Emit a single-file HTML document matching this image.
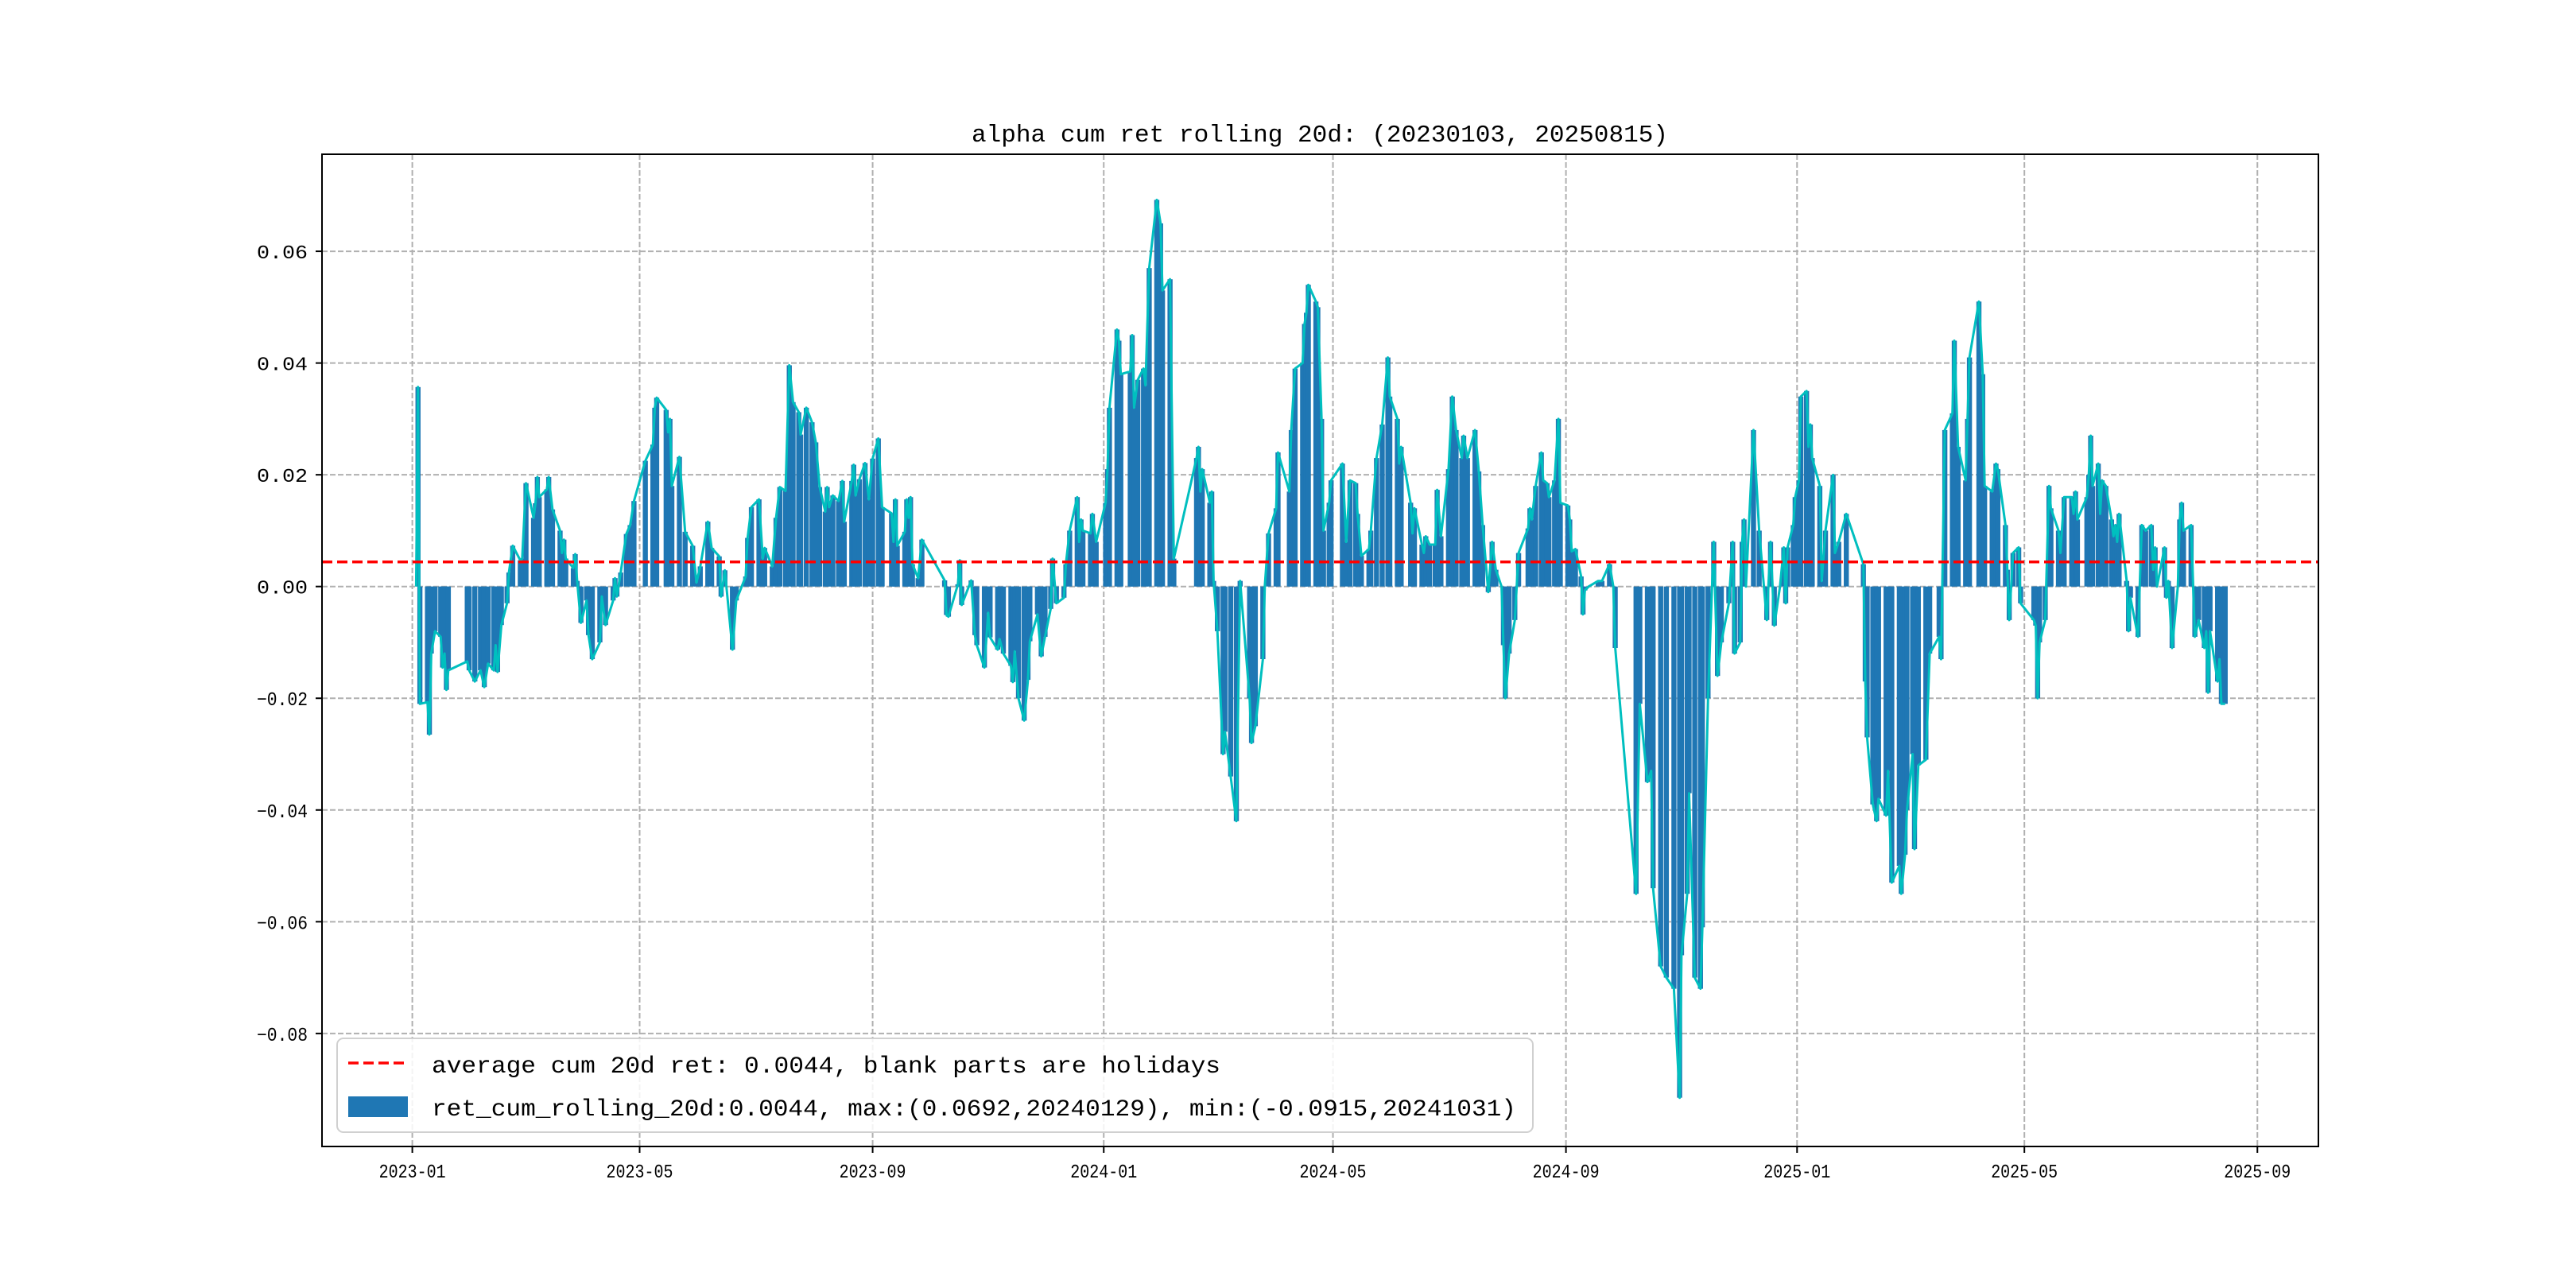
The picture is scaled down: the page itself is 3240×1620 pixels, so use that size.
<!DOCTYPE html>
<html><head><meta charset="utf-8"><title>alpha cum ret rolling 20d</title>
<style>html,body{margin:0;padding:0;background:#fff}svg{display:block}text{font-family:"Liberation Mono","WenQuanYi Zen Hei",monospace}</style>
</head><body>
<svg id="chart" xmlns="http://www.w3.org/2000/svg" width="3240" height="1620" viewBox="0 0 3240 1620">
<rect x="0" y="0" width="3240" height="1620" fill="#fff"/>
<g id="grid"></g>
<g id="bars"></g>
<g id="line"></g>
<g id="avg"></g>
<rect x="405" y="194" width="2511" height="1248" fill="none" stroke="#000" stroke-width="2"/>
<g id="ticks"></g>
<text x="1660" y="178" text-anchor="middle" font-size="31" textLength="876" lengthAdjust="spacingAndGlyphs" fill="#000">alpha cum ret rolling 20d: (20230103, 20250815)</text>
<g>
<rect x="424" y="1306" width="1504" height="118" rx="8" fill="#fff" fill-opacity="0.85" stroke="#d0d0d0" stroke-width="2"/>
<line x1="438" y1="1337" x2="513" y2="1337" stroke="#ff0000" stroke-width="3.5" stroke-dasharray="13,6"/>
<text x="543" y="1349" font-size="30" textLength="992" lengthAdjust="spacingAndGlyphs">average cum 20d ret: 0.0044, blank parts are holidays</text>
<rect x="438" y="1379" width="75" height="26" fill="#1f77b4"/>
<text x="543" y="1403" font-size="30" textLength="1364" lengthAdjust="spacingAndGlyphs">ret_cum_rolling_20d:0.0044, max:(0.0692,20240129), min:(-0.0915,20241031)</text>
</g>
</svg>
<script>
const dates = [
"2023-01-03","2023-01-04","2023-01-05","2023-01-09","2023-01-10","2023-01-11","2023-01-13","2023-01-16","2023-01-17","2023-01-18",
"2023-01-19","2023-01-20","2023-01-30","2023-01-31","2023-02-03","2023-02-06","2023-02-08","2023-02-10","2023-02-13","2023-02-14",
"2023-02-15","2023-02-17","2023-02-20","2023-02-21","2023-02-23","2023-02-27","2023-02-28","2023-03-02","2023-03-06","2023-03-07",
"2023-03-08","2023-03-09","2023-03-13","2023-03-14","2023-03-16","2023-03-20","2023-03-21","2023-03-22","2023-03-23","2023-03-27",
"2023-03-28","2023-03-29","2023-03-31","2023-04-03","2023-04-04","2023-04-06","2023-04-10","2023-04-11","2023-04-13","2023-04-17",
"2023-04-18","2023-04-19","2023-04-21","2023-04-24","2023-04-26","2023-04-28","2023-05-04","2023-05-08","2023-05-09","2023-05-10",
"2023-05-15","2023-05-16","2023-05-17","2023-05-18","2023-05-22","2023-05-25","2023-05-29","2023-05-31","2023-06-02","2023-06-06",
"2023-06-08","2023-06-12","2023-06-13","2023-06-15","2023-06-19","2023-06-21","2023-06-26","2023-06-27","2023-06-29","2023-07-03",
"2023-07-05","2023-07-06","2023-07-10","2023-07-12","2023-07-14","2023-07-17","2023-07-19","2023-07-21","2023-07-24","2023-07-25",
"2023-07-28","2023-07-31","2023-08-02","2023-08-04","2023-08-07","2023-08-08","2023-08-09","2023-08-11","2023-08-14","2023-08-16",
"2023-08-17","2023-08-21","2023-08-22","2023-08-23","2023-08-25","2023-08-28","2023-08-30","2023-09-01","2023-09-04","2023-09-06",
"2023-09-11","2023-09-12","2023-09-13","2023-09-14","2023-09-18","2023-09-19","2023-09-20","2023-09-21","2023-09-22","2023-09-25",
"2023-09-27","2023-10-09","2023-10-10","2023-10-11","2023-10-16","2023-10-17","2023-10-18","2023-10-23","2023-10-25","2023-10-26",
"2023-10-30","2023-11-01","2023-11-02","2023-11-06","2023-11-07","2023-11-09","2023-11-13","2023-11-14","2023-11-15","2023-11-17",
"2023-11-20","2023-11-22","2023-11-23","2023-11-27","2023-11-29","2023-12-01","2023-12-04","2023-12-05","2023-12-07","2023-12-11",
"2023-12-12","2023-12-14","2023-12-18","2023-12-19","2023-12-20","2023-12-21","2023-12-25","2023-12-26","2023-12-28","2024-01-02",
"2024-01-03","2024-01-04","2024-01-08","2024-01-09","2024-01-10","2024-01-15","2024-01-16","2024-01-17","2024-01-19","2024-01-22",
"2024-01-23","2024-01-25","2024-01-29","2024-01-31","2024-02-01","2024-02-05","2024-02-07","2024-02-19","2024-02-20","2024-02-21",
"2024-02-22","2024-02-26","2024-02-27","2024-02-28","2024-03-01","2024-03-04","2024-03-05","2024-03-08","2024-03-11","2024-03-13",
"2024-03-18","2024-03-19","2024-03-21","2024-03-25","2024-03-26","2024-03-28","2024-04-01","2024-04-02","2024-04-08","2024-04-09",
"2024-04-11","2024-04-15","2024-04-16","2024-04-17","2024-04-18","2024-04-22","2024-04-23","2024-04-25","2024-04-26","2024-04-29",
"2024-04-30","2024-05-06","2024-05-08","2024-05-10","2024-05-13","2024-05-14","2024-05-16","2024-05-20","2024-05-21","2024-05-24",
"2024-05-27","2024-05-30","2024-05-31","2024-06-04","2024-06-05","2024-06-06","2024-06-11","2024-06-12","2024-06-13","2024-06-17",
"2024-06-18","2024-06-19","2024-06-21","2024-06-24","2024-06-25","2024-06-27","2024-07-01","2024-07-03","2024-07-05","2024-07-08",
"2024-07-09","2024-07-11","2024-07-15","2024-07-17","2024-07-19","2024-07-22","2024-07-24","2024-07-26","2024-07-29","2024-07-30",
"2024-07-31","2024-08-02","2024-08-05","2024-08-07","2024-08-12","2024-08-13","2024-08-14","2024-08-16","2024-08-19","2024-08-20",
"2024-08-22","2024-08-23","2024-08-26","2024-08-28","2024-08-29","2024-09-02","2024-09-03","2024-09-04","2024-09-06","2024-09-09",
"2024-09-10","2024-09-11","2024-09-13","2024-09-18","2024-09-20","2024-09-24","2024-09-26","2024-09-27","2024-10-08","2024-10-10",
"2024-10-14","2024-10-16","2024-10-17","2024-10-21","2024-10-24","2024-10-28","2024-10-31","2024-11-01","2024-11-04","2024-11-05",
"2024-11-08","2024-11-11","2024-11-12","2024-11-15","2024-11-18","2024-11-20","2024-11-22","2024-11-26","2024-11-28","2024-11-29",
"2024-12-02","2024-12-03","2024-12-04","2024-12-05","2024-12-09","2024-12-12","2024-12-16","2024-12-18","2024-12-20","2024-12-23",
"2024-12-25","2024-12-26","2024-12-27","2024-12-30","2024-12-31","2025-01-02","2025-01-03","2025-01-06","2025-01-07","2025-01-08",
"2025-01-09","2025-01-13","2025-01-14","2025-01-16","2025-01-20","2025-01-21","2025-01-23","2025-01-27","2025-02-05","2025-02-06",
"2025-02-07","2025-02-10","2025-02-12","2025-02-13","2025-02-17","2025-02-18","2025-02-20","2025-02-24","2025-02-25","2025-02-27",
"2025-02-28","2025-03-03","2025-03-04","2025-03-06","2025-03-10","2025-03-12","2025-03-17","2025-03-18","2025-03-20","2025-03-24",
"2025-03-25","2025-03-27","2025-03-31","2025-04-01","2025-04-02","2025-04-07","2025-04-09","2025-04-10","2025-04-14","2025-04-16",
"2025-04-17","2025-04-21","2025-04-22","2025-04-23","2025-04-25","2025-04-28","2025-04-29","2025-05-06","2025-05-07","2025-05-08",
"2025-05-09","2025-05-12","2025-05-14","2025-05-15","2025-05-19","2025-05-20","2025-05-22","2025-05-26","2025-05-27","2025-05-28",
"2025-05-29","2025-06-03","2025-06-04","2025-06-05","2025-06-06","2025-06-09","2025-06-10","2025-06-11","2025-06-13","2025-06-16",
"2025-06-17","2025-06-18","2025-06-19","2025-06-20","2025-06-24","2025-06-25","2025-06-26","2025-06-30","2025-07-02","2025-07-04",
"2025-07-07","2025-07-08","2025-07-09","2025-07-10","2025-07-14","2025-07-15","2025-07-16","2025-07-18","2025-07-21","2025-07-22",
"2025-07-23","2025-07-24","2025-07-28","2025-07-30","2025-08-01","2025-08-04","2025-08-05","2025-08-06","2025-08-07","2025-08-11",
"2025-08-12","2025-08-13","2025-08-15"
];
const values = [
0,0.0357,-0.021,-0.0207,-0.0265,-0.012,-0.008,-0.009,-0.0145,-0.012,
-0.0185,-0.015,-0.0134,-0.015,-0.017,-0.015,-0.018,-0.0138,-0.015,-0.0105,
-0.0153,-0.0069,-0.003,0.0025,0.0073,0.0047,0.005,0.0185,0.0123,0.0149,
0.0196,0.016,0.0174,0.0196,0.0138,0.010,0.006,0.0084,0.005,0.0033,
0.0058,0.001,-0.0065,-0.0025,-0.0087,-0.013,-0.010,-0.0018,-0.0069,-0.0025,
0.0015,-0.0018,0.0025,0.0094,0.011,0.0153,0.0225,0.0254,0.032,0.0338,
0.0316,0.0276,0.030,0.018,0.0232,0.0098,0.0073,0.0007,0.0036,0.0116,
0.0069,0.0054,-0.0018,0.0029,-0.0113,-0.0025,0.0018,0.0087,0.0142,0.0156,
0.005,0.0069,0.0036,0.0123,0.0178,0.0171,0.0396,0.033,0.0312,0.0272,
0.032,0.0294,0.0258,0.0178,0.0134,0.0178,0.0142,0.0163,0.0153,0.0189,
0.0116,0.0189,0.0218,0.0163,0.0192,0.0221,0.0156,0.0229,0.0265,0.0142,
0.0131,0.008,0.0156,0.0073,0.0098,0.0156,0.0123,0.016,0.004,0.0015,
0.0084,0.0011,-0.0051,-0.0054,0.0004,0.0047,-0.0033,0.0011,-0.0087,-0.0105,
-0.0145,-0.0047,-0.0091,-0.0113,-0.0094,-0.012,-0.0142,-0.0171,-0.0116,-0.020,
-0.024,-0.0167,-0.0098,-0.005,-0.0125,-0.009,-0.004,0.005,-0.003,-0.002,
0.004,0.010,0.016,0.008,0.012,0.010,0.0095,0.013,0.008,0.015,
0.021,0.032,0.046,0.044,0.038,0.0385,0.045,0.032,0.037,0.039,
0.036,0.057,0.0692,0.065,0.053,0.055,0.005,0.023,0.025,0.017,
0.021,0.015,0.017,0.001,-0.008,-0.030,-0.026,-0.034,-0.042,0.001,
-0.020,-0.028,-0.025,-0.013,0.000,0.0095,0.014,0.024,0.017,0.028,
0.039,0.040,0.047,0.049,0.054,0.051,0.050,0.030,0.010,0.015,
0.019,0.022,0.008,0.019,0.0185,0.013,0.0055,0.0067,0.010,0.023,
0.029,0.041,0.034,0.030,0.022,0.025,0.015,0.0095,0.014,0.0075,
0.006,0.009,0.0075,0.0075,0.0173,0.009,0.021,0.034,0.028,0.023,
0.027,0.023,0.028,0.0206,0.011,-0.001,0.008,0.003,0.000,-0.0105,
-0.020,-0.012,-0.006,0.006,0.0104,0.014,0.012,0.018,0.024,0.019,
0.0185,0.016,0.019,0.030,0.015,0.0145,0.012,0.0063,0.0067,0.0018,
-0.005,-0.0007,0.000,0.001,0.001,0.004,0.000,-0.011,-0.055,-0.021,
-0.035,-0.033,-0.054,-0.068,-0.070,-0.072,-0.0915,-0.066,-0.055,-0.037,
-0.070,-0.072,-0.061,-0.020,0.008,-0.016,-0.010,-0.003,0.008,-0.012,
-0.010,0.008,0.012,0.000,0.028,0.010,-0.006,0.008,-0.007,0.000,
0.007,-0.003,0.007,0.011,0.016,0.019,0.034,0.035,0.025,0.029,
0.023,0.018,0.001,0.010,0.020,0.006,0.008,0.013,0.004,-0.017,
-0.027,-0.039,-0.042,-0.038,-0.041,-0.033,-0.053,-0.050,-0.055,-0.048,
-0.040,-0.030,-0.047,-0.032,-0.031,-0.012,-0.009,-0.013,0.028,0.031,
0.044,0.025,0.019,0.030,0.041,0.051,0.038,0.018,0.017,0.022,
0.021,0.011,0.003,-0.006,0.006,0.007,-0.003,-0.006,-0.007,-0.020,
-0.010,-0.006,0.018,0.014,0.010,0.006,0.016,0.016,0.013,0.017,
0.012,0.016,0.020,0.027,0.018,0.022,0.013,0.019,0.018,0.012,
0.009,0.011,0.008,0.013,0.001,-0.008,-0.002,-0.009,0.011,0.010,
0.011,0.003,0.007,0.000,0.007,-0.002,0.001,-0.011,0.000,0.012,
0.015,0.010,0.011,-0.009,-0.006,-0.011,-0.008,-0.019,-0.008,-0.017,
-0.013,-0.021,-0.021
];
const averageValue = 0.0044;
const yTicks = [-0.08,-0.06,-0.04,-0.02,0.00,0.02,0.04,0.06];
const xTickLabels = ["2023-01","2023-05","2023-09","2024-01","2024-05","2024-09","2025-01","2025-05","2025-09"];

const NS = "http://www.w3.org/2000/svg";
const AX = {left:405,right:2916,top:194,bottom:1442};
const ORIGIN = Date.UTC(2023,0,1);
function dayNum(s){const p=s.split("-").map(Number);return (Date.UTC(p[0],p[1]-1,p[2]||1)-ORIGIN)/86400000;}
function xScale(s){return 518.6 + dayNum(s)*2.3826;}
function yScale(v){return 737.7 - v*7027;}
function mk(tag, attrs, parent){const e=document.createElementNS(NS,tag);for(const k in attrs)e.setAttribute(k,attrs[k]);parent.appendChild(e);return e;}

const grid=document.getElementById("grid"), ticks=document.getElementById("ticks");
yTicks.forEach(v=>{
  const y=yScale(v);
  const g=mk("line",{x1:AX.left,x2:AX.right,y1:y,y2:y,stroke:"#b0b0b0","stroke-width":2,"stroke-dasharray":"7,3"},grid);
  
  
  const t=mk("line",{x1:AX.left-8,x2:AX.left,y1:y,y2:y,stroke:"#000","stroke-width":2},ticks);
  
  
  const lb=mk("text",{x:387,y:y+9,"text-anchor":"end","font-size":24,textLength:64,lengthAdjust:"spacingAndGlyphs"},ticks);
  
  
  lb.textContent=v.toFixed(2).replace("-","\u2212");
});
xTickLabels.forEach(s=>{
  const x=xScale(s);
  const g=mk("line",{x1:x,x2:x,y1:AX.top,y2:AX.bottom,stroke:"#b0b0b0","stroke-width":2,"stroke-dasharray":"7,3"},grid);
  
  
  const t=mk("line",{x1:x,x2:x,y1:AX.bottom,y2:AX.bottom+8,stroke:"#000","stroke-width":2},ticks);
  
  
  const lb=mk("text",{x:x,y:1481,"text-anchor":"middle","font-size":24,textLength:84,lengthAdjust:"spacingAndGlyphs"},ticks);
  
  
  lb.textContent=s;
});

const bars=document.getElementById("bars");
const y0=yScale(0);
dates.forEach((d,i)=>{
  const x=xScale(d), y=yScale(values[i]);
  const r=mk("rect",{x:x-3.2,y:Math.min(y,y0),width:6.4,height:Math.abs(y-y0),fill:"#1f77b4"},bars);
  
  
});

const pts=dates.map((d,i)=>xScale(d).toFixed(1)+","+yScale(values[i]).toFixed(1)).join(" ");
const pl=mk("polyline",{points:pts,fill:"none",stroke:"#00bfbf","stroke-width":3,"stroke-linejoin":"round"},document.getElementById("line"));



const ya=yScale(averageValue);
const al=mk("line",{x1:AX.left,x2:AX.right,y1:ya,y2:ya,stroke:"#ff0000","stroke-width":3.5,"stroke-dasharray":"13,6"},document.getElementById("avg"));


</script>
</body></html>
